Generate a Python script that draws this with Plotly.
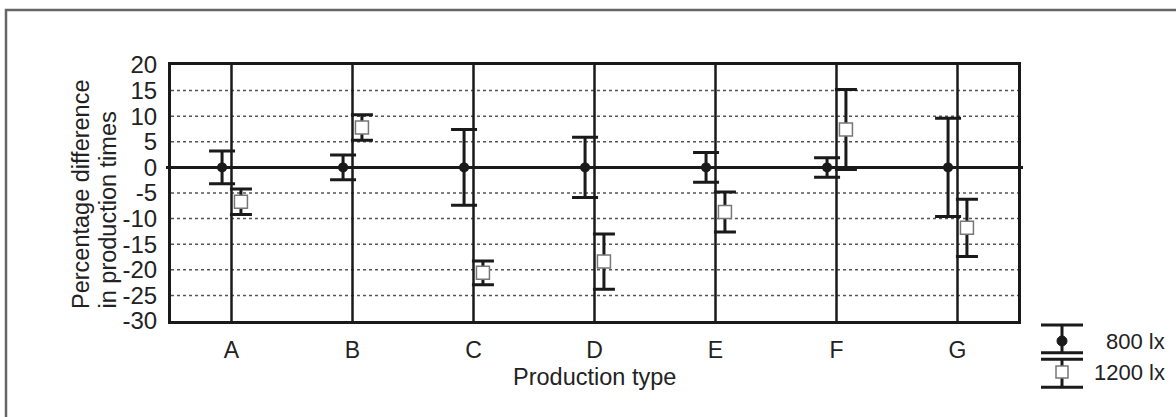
import plotly.graph_objects as go

categories = ["A", "B", "C", "D", "E", "F", "G"]
mean_800 = [0, 0, 0, 0, 0, 0, 0]
err_800 = [3.2, 2.4, 7.4, 5.9, 2.9, 1.9, 9.6]
mean_1200 = [-6.7, 7.8, -20.6, -18.4, -8.7, 7.4, -11.8]
err_1200 = [2.5, 2.5, 2.3, 5.4, 3.9, 7.8, 5.6]
y_ticks = [20, 15, 10, 5, 0, -5, -10, -15, -20, -25, -30]
y_tick_text = ["20", "15", "10", "5", "0", "-5", "-10", "-15", "-20", "-25", "-30"]

W, H = 1176, 417
L, R, T, B = 171, 158, 65, 96
PW, PH = W - L - R, H - T - B

def px(x):
    return (x - L) / PW

def py(y):
    return (H - B - y) / PH

idx = list(range(len(categories)))
off = 0.078
FONT = "Liberation Sans, Arial, sans-serif"
INK = "#1a1a1a"
TXT = "#222"

fig = go.Figure()
fig.add_trace(go.Scatter(
    x=[i - off for i in idx], y=mean_800, mode="markers", name="800 lx",
    marker=dict(symbol="circle", size=10, color=INK),
    error_y=dict(type="data", array=err_800, visible=True, color=INK, thickness=3, width=13),
))
fig.add_trace(go.Scatter(
    x=[i + off for i in idx], y=mean_1200, mode="markers", name="1200 lx",
    marker=dict(symbol="square", size=13, color="white", line=dict(color="#777", width=1.5)),
    error_y=dict(type="data", array=err_1200, visible=True, color=INK, thickness=3, width=11),
))

shapes = []
for v in y_ticks:
    if v in (20, -30, 0):
        continue
    shapes.append(dict(type="line", xref="paper", yref="y", x0=0, x1=1, y0=v, y1=v,
                       line=dict(color="#555", width=1.5, dash="dot"), layer="below"))
for i in idx:
    shapes.append(dict(type="line", xref="x", yref="paper", x0=i, x1=i, y0=0, y1=1,
                       line=dict(color=INK, width=2.5), layer="below"))
shapes.append(dict(type="line", xref="paper", yref="y", x0=px(166), x1=px(1023), y0=0, y1=0,
                   line=dict(color=INK, width=3), layer="below"))
shapes.append(dict(type="rect", xref="paper", yref="paper", x0=px(6), x1=px(1185), y0=py(10), y1=py(425),
                   line=dict(color="#666", width=2.5), layer="below"))

# custom legend
cx = 1062
def hline(y, x0=1041, x1=1083):
    shapes.append(dict(type="line", xref="paper", yref="paper", x0=px(x0), x1=px(x1), y0=py(y), y1=py(y),
                       line=dict(color=INK, width=3)))
def vline(y0, y1):
    shapes.append(dict(type="line", xref="paper", yref="paper", x0=px(cx), x1=px(cx), y0=py(y0), y1=py(y1),
                       line=dict(color=INK, width=3)))
hline(325); vline(325, 352.7); hline(352.7)
hline(359.3); vline(359.3, 387.3); hline(387.3)
shapes.append(dict(type="circle", xref="paper", yref="paper", xsizemode="pixel", ysizemode="pixel",
                   xanchor=px(cx), yanchor=py(341), x0=-5, x1=5, y0=-5, y1=5,
                   fillcolor=INK, line=dict(color=INK, width=1)))
shapes.append(dict(type="rect", xref="paper", yref="paper", xsizemode="pixel", ysizemode="pixel",
                   xanchor=px(cx), yanchor=py(372), x0=-6, x1=6, y0=-6, y1=6,
                   fillcolor="white", line=dict(color="#777", width=1.5)))

def ann(text, x, y, size, xanchor="center", yanchor="middle", angle=0):
    return dict(text=text, xref="paper", yref="paper", x=px(x), y=py(y), xanchor=xanchor,
                yanchor=yanchor, showarrow=False, textangle=angle,
                font=dict(family=FONT, size=size, color=TXT))

annotations = [
    ann("800 lx", 1167, 341, 22, "right"),
    ann("1200 lx", 1167, 372, 22, "right"),
    ann("Production type", 594, 377, 23.5),
    ann("Percentage difference", 81, 311, 23.5, yanchor="bottom", angle=-90),
    ann("in production times", 107, 311, 23.5, yanchor="bottom", angle=-90),
]

fig.update_layout(
    width=W, height=H,
    margin=dict(l=L, r=R, t=T, b=B, pad=0),
    paper_bgcolor="white", plot_bgcolor="white",
    showlegend=False,
    font=dict(family=FONT, color=TXT),
    shapes=shapes, annotations=annotations,
    xaxis=dict(range=[-0.5, 6.5], tickvals=idx, ticktext=categories, showgrid=False, zeroline=False,
               showline=True, mirror=True, linecolor=INK, linewidth=3, ticks="",
               tickfont=dict(size=23), ticklabelstandoff=6),
    yaxis=dict(range=[-30, 20], tickvals=y_ticks, ticktext=y_tick_text, showgrid=False, zeroline=False,
               showline=True, mirror=True, linecolor=INK, linewidth=3, ticks="",
               tickfont=dict(size=24), ticklabelstandoff=6),
)

fig.write_html("out.html")
